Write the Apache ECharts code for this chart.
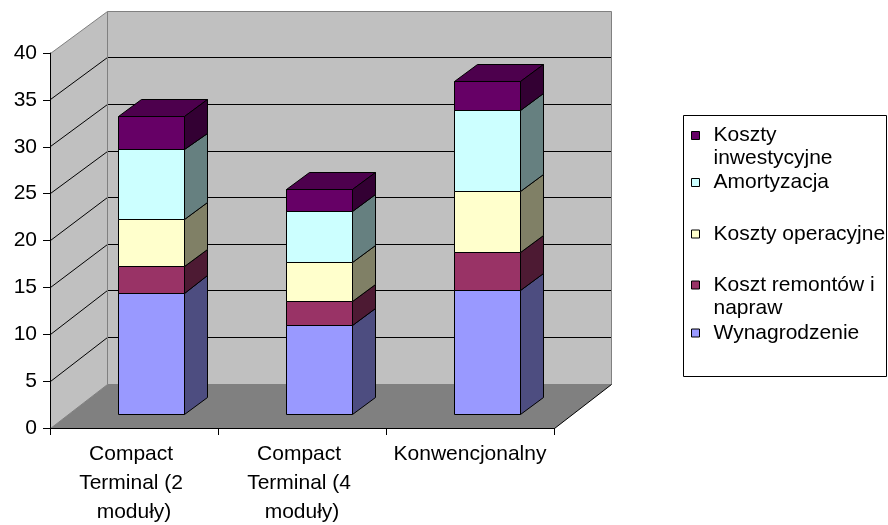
<!DOCTYPE html>
<html>
<head>
<meta charset="utf-8">
<script src="https://cdn.jsdelivr.net/npm/echarts@6/dist/echarts.min.js"></script>
<style>
  html, body { margin: 0; padding: 0; background: #ffffff; }
  #chart { width: 888px; height: 525px; }
</style>
</head>
<body>
<div id="chart"></div>
<script>
// ---- data ----
const categories = ['Compact Terminal (2 moduły)', 'Compact Terminal (4 moduły)', 'Konwencjonalny'];
const seriesNames = ['Wynagrodzenie', 'Koszt remontów i napraw', 'Koszty operacyjne', 'Amortyzacja', 'Koszty inwestycyjne'];
const wynagrodzenie = [13.0, 9.5, 13.3];
const remonty = [2.8, 2.6, 4.0];
const operacyjne = [5.1, 4.2, 6.6];
const amortyzacja = [7.4, 5.4, 8.6];
const inwestycyjne = [3.6, 2.4, 3.1];
const valueTicks = [0, 5, 10, 15, 20, 25, 30, 35, 40];

const seriesValues = [wynagrodzenie, remonty, operacyjne, amortyzacja, inwestycyjne];
const seriesColors = ['#9999FF', '#993366', '#FFFFCC', '#CCFFFF', '#660066'];

// legend entries that wrap onto two lines
const legendWrapped = {
  'Koszty inwestycyjne': ['Koszty', 'inwestycyjne'],
  'Koszt remontów i napraw': ['Koszt remontów i', 'napraw']
};

// ---- 3D look: oblique depth projection ----
const DEPTH_X = 57.5;      // horizontal shift from front plane to back wall
const DEPTH_Y = -44;       // vertical shift from front plane to back wall
const BACK_SCALE = 0.994;  // value scale on the back wall relative to the front
const BAR_Z0 = 0.30, BAR_Z1 = 0.70;   // bar depth span
const BAR_FRACTION = 0.393;           // bar width relative to category band
const FONT = "'Liberation Sans', Arial, sans-serif";

const crisp = v => Math.round(v - 0.5) + 0.5;

function proj(api, xPix, v, z) {
  const y0 = api.coord([0, 0])[1];
  const yv = api.coord([0, v])[1];
  return [xPix + z * DEPTH_X, y0 + (yv - y0) * (1 - z * (1 - BACK_SCALE)) + z * DEPTH_Y];
}
const crispPt = p => [crisp(p[0]), crisp(p[1])];

function shade(hex, f) {
  const n = parseInt(hex.slice(1), 16);
  const r = Math.round(((n >> 16) & 255) * f);
  const g = Math.round(((n >> 8) & 255) * f);
  const b = Math.round((n & 255) * f);
  return 'rgb(' + r + ',' + g + ',' + b + ')';
}

const vMin = valueTicks[0];
const vMax = valueTicks[valueTicks.length - 1];

// walls, floor and gridlines
function renderWalls(params, api) {
  const cs = params.coordSys;
  const xl = cs.x, xr = cs.x + cs.width;
  const children = [];
  const poly = (pts, fill) => children.push({
    type: 'polygon', shape: { points: pts.map(crispPt) }, style: { fill: fill, stroke: null }
  });
  const line = (a, b, color) => {
    const p = crispPt(a), q = crispPt(b);
    children.push({
      type: 'line', shape: { x1: p[0], y1: p[1], x2: q[0], y2: q[1] },
      style: { stroke: color, lineWidth: 1 }
    });
  };
  // left wall
  poly([proj(api, xl, vMin, 0), proj(api, xl, vMax, 0), proj(api, xl, vMax, 1), proj(api, xl, vMin, 1)], '#C0C0C0');
  // back wall
  poly([proj(api, xl, vMin, 1), proj(api, xr, vMin, 1), proj(api, xr, vMax, 1), proj(api, xl, vMax, 1)], '#C0C0C0');
  // floor
  poly([proj(api, xl, vMin, 0), proj(api, xr, vMin, 0), proj(api, xr, vMin, 1), proj(api, xl, vMin, 1)], '#808080');
  // gridlines
  valueTicks.forEach(v => {
    if (v === vMin || v === vMax) return;
    line(proj(api, xl, v, 1), proj(api, xr, v, 1), '#000000');
    line(proj(api, xl, v, 0), proj(api, xl, v, 1), '#000000');
  });
  // wall edges
  const edge = '#808080';
  line(proj(api, xl, vMax, 1), proj(api, xr, vMax, 1), edge);
  line(proj(api, xl, vMin, 1), proj(api, xr, vMin, 1), edge);
  line(proj(api, xl, vMin, 1), proj(api, xl, vMax, 1), edge);
  line(proj(api, xr, vMin, 1), proj(api, xr, vMax, 1), edge);
  line(proj(api, xl, vMax, 0), proj(api, xl, vMax, 1), edge);
  line(proj(api, xl, vMin, 0), proj(api, xl, vMin, 1), edge);
  // floor right edge
  line(proj(api, xr, vMin, 0), proj(api, xr, vMin, 1), '#000000');
  return { type: 'group', children: children };
}

// one stacked 3D block
function makeBarRenderer(color) {
  const side = shade(color, 0.5);
  const top = shade(color, 0.75);
  return function (params, api) {
    const j = api.value(0), b = api.value(1), t = api.value(2);
    const cx = api.coord([j, 0])[0];
    const hw = api.size([1, 0])[0] * BAR_FRACTION / 2;
    const xl = cx - hw, xr = cx + hw;
    const face = (pts, fill) => ({
      type: 'polygon', shape: { points: pts.map(crispPt) },
      style: { fill: fill, stroke: '#000000', lineWidth: 1, lineJoin: 'miter' }
    });
    return {
      type: 'group',
      children: [
        face([proj(api, xl, t, BAR_Z0), proj(api, xr, t, BAR_Z0), proj(api, xr, t, BAR_Z1), proj(api, xl, t, BAR_Z1)], top),
        face([proj(api, xr, b, BAR_Z0), proj(api, xr, b, BAR_Z1), proj(api, xr, t, BAR_Z1), proj(api, xr, t, BAR_Z0)], side),
        face([proj(api, xl, b, BAR_Z0), proj(api, xr, b, BAR_Z0), proj(api, xr, t, BAR_Z0), proj(api, xl, t, BAR_Z0)], color)
      ]
    };
  };
}

// stacked data: [category, base, top]
const cumulative = categories.map(() => 0);
const barSeries = seriesNames.map((name, i) => {
  const data = categories.map((c, j) => {
    const base = cumulative[j];
    cumulative[j] = base + seriesValues[i][j];
    return [j, base, cumulative[j]];
  });
  return {
    type: 'custom',
    name: name,
    coordinateSystem: 'cartesian2d',
    itemStyle: { color: seriesColors[i] },
    encode: { x: 0, y: [1, 2] },
    clip: false,
    silent: true,
    renderItem: makeBarRenderer(seriesColors[i]),
    data: data
  };
});

// legend entry positions (top of each entry block)
const legendTop = {
  'Koszty inwestycyjne': 101,
  'Amortyzacja': 171,
  'Koszty operacyjne': 222.5,
  'Koszt remontów i napraw': 250.5,
  'Wynagrodzenie': 321.5
};

const legends = seriesNames.slice().reverse().map(name => ({
  data: [name],
  orient: 'vertical',
  left: 691,
  top: legendTop[name],
  padding: 0,
  itemGap: 0,
  itemWidth: 8,
  itemHeight: 8,
  icon: 'rect',
  selectedMode: false,
  itemStyle: { borderColor: '#000000', borderWidth: 1 },
  textStyle: { fontFamily: FONT, fontSize: 21, lineHeight: 23, color: '#000000', padding: [0, 0, 0, 9] },
  formatter: n => legendWrapped[n] ? '\n' + legendWrapped[n].join('\n') : n
}));

const chart = echarts.init(document.getElementById('chart'), null, { renderer: 'canvas' });
chart.setOption({
  animation: false,
  backgroundColor: '#ffffff',
  textStyle: { fontFamily: FONT },
  grid: { left: 50, top: 53, width: 504, height: 375, containLabel: false, outerBoundsMode: 'none' },
  legend: legends,
  graphic: [{
    type: 'rect',
    shape: { x: 683.5, y: 115.5, width: 203, height: 261 },
    style: { fill: 'none', stroke: '#000000', lineWidth: 1 },
    silent: true
  }],
  xAxis: {
    type: 'category',
    data: categories,
    z: 10,
    boundaryGap: true,
    axisLine: { show: true, lineStyle: { color: '#000000', width: 1 } },
    axisTick: { show: true, length: 7, alignWithLabel: false, lineStyle: { color: '#000000' } },
    axisLabel: {
      interval: 0, color: '#000000', fontFamily: FONT, fontSize: 21, lineHeight: 29,
      margin: 12, width: 165, overflow: 'break'
    },
    splitLine: { show: false }
  },
  yAxis: {
    type: 'value',
    min: vMin,
    max: vMax,
    interval: valueTicks[1] - valueTicks[0],
    z: 10,
    axisLine: { show: true, lineStyle: { color: '#000000', width: 1 } },
    axisTick: { show: true, length: 7, lineStyle: { color: '#000000' } },
    axisLabel: { color: '#000000', fontFamily: FONT, fontSize: 21, margin: 13 },
    splitLine: { show: false }
  },
  series: [{
    type: 'custom',
    name: 'walls',
    coordinateSystem: 'cartesian2d',
    clip: false,
    silent: true,
    renderItem: renderWalls,
    data: [[0, 0]]
  }].concat(barSeries)
});
</script>
</body>
</html>
